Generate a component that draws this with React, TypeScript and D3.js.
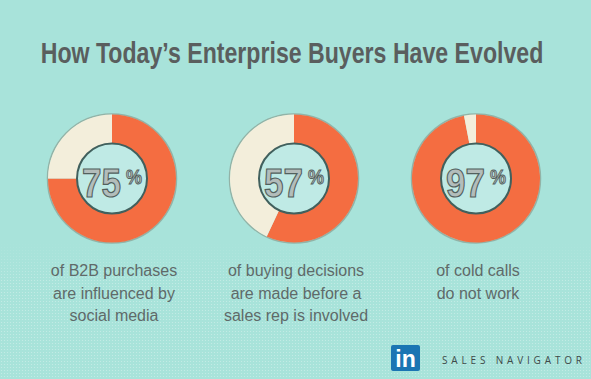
import React, { useLayoutEffect, useRef, useState } from "react";
import * as d3 from "d3";

const W = 591;
const H = 379;

const title = "How Today\u2019s Enterprise Buyers Have Evolved";
const percents = [75, 57, 97];
const captions = [
  ["of B2B purchases", "are influenced by", "social media"],
  ["of buying decisions", "are made before a", "sales rep is involved"],
  ["of cold calls", "do not work"],
];
const brand = "SALES NAVIGATOR";

const ORANGE = "#f46d41";
const CREAM = "#f3eedb";
const BG = "#a8e3da";
const HOLE = "#bfeae5";

type FitProps = {
  x: number;
  y: number;
  width: number;
  anchor?: "start" | "middle";
  children: string;
  [k: string]: any;
};

// Text squeezed horizontally to a given width via a measured transform.
function FitText({ x, y, width, anchor = "start", children, ...rest }: FitProps) {
  const ref = useRef<SVGTextElement>(null);
  const [k, setK] = useState(1);
  useLayoutEffect(() => {
    if (ref.current) {
      const w = ref.current.getComputedTextLength();
      if (w > 0) setK(width / w);
    }
  }, [width, children]);
  return (
    <text
      ref={ref}
      transform={`translate(${x},${y}) scale(${k},1)`}
      textAnchor={anchor}
      {...rest}
    >
      {children}
    </text>
  );
}

export default function App() {
  const x = d3.scalePoint<number>().domain(d3.range(percents.length)).range([112, 476]);
  const cy = 178.5;
  const pie = d3.pie<number>().sort(null).value((d) => d);
  const arc = d3.arc<d3.PieArcDatum<number>>().innerRadius(35).outerRadius(64);

  return (
    <svg
      width={W}
      height={H}
      style={{ position: "absolute", left: 0, top: 0, display: "block" }}
    >
      <defs>
        <pattern id="dots" width="3" height="3" patternUnits="userSpaceOnUse">
          <circle cx="1.5" cy="1.5" r="0.6" fill="#ffffff" opacity="0.35" />
        </pattern>
        <linearGradient id="fade" x1="0" y1="0" x2="0" y2="1">
          <stop offset="0" stopColor="#fff" stopOpacity="0" />
          <stop offset="0.3" stopColor="#fff" stopOpacity="1" />
          <stop offset="1" stopColor="#fff" stopOpacity="1" />
        </linearGradient>
        <mask id="fadeMask">
          <rect x="0" y="240" width={W} height={H - 240} fill="url(#fade)" />
        </mask>
      </defs>
      <rect width={W} height={H} fill={BG} />
      <rect x="0" y="240" width={W} height={H - 240} fill="url(#dots)" mask="url(#fadeMask)" />

      <FitText
        x={292}
        y={63}
        width={503}
        anchor="middle"
        fontFamily="'Liberation Sans', Arial, sans-serif"
        fontWeight="bold"
        fontSize={29}
        fill="#5a5e5e"
      >
        {title}
      </FitText>

      {percents.map((p, i) => {
        const cx = x(i)!;
        const arcs = pie([p, 100 - p]);
        return (
          <g key={i}>
            <g transform={`translate(${cx},${cy})`}>
              <circle r={64.5} fill="none" stroke="#6b5a48" strokeOpacity={0.35} strokeWidth={1.5} />
              {arcs.map((a, j) => (
                <path key={j} d={arc(a) || ""} fill={j === 0 ? ORANGE : CREAM} />
              ))}
              <circle r={35} fill={HOLE} stroke="#41605d" strokeWidth={2} />
              <FitText
                x={-30}
                y={18}
                width={39}
                fontFamily="'Liberation Sans', Arial, sans-serif"
                fontWeight="bold"
                fontSize={40}
                fill="#b3bdbb"
                stroke="#52605d"
                strokeWidth={1.2}
              >
                {String(p)}
              </FitText>
              <FitText
                x={14}
                y={5}
                width={16}
                fontFamily="'Liberation Sans', Arial, sans-serif"
                fontWeight="bold"
                fontSize={21}
                fill="#b3bdbb"
                stroke="#52605d"
                strokeWidth={0.9}
              >
                %
              </FitText>
            </g>
            {captions[i].map((line, k) => (
              <text
                key={k}
                x={cx + 2}
                y={276 + k * 22.5}
                textAnchor="middle"
                fontFamily="'Liberation Sans', Arial, sans-serif"
                fontSize={16}
                fill="#5f6a69"
              >
                {line}
              </text>
            ))}
          </g>
        );
      })}

      <rect x={391} y={345} width={29} height={26} rx={2} fill="#1b75b3" />
      <text
        x={405.5}
        y={367}
        textAnchor="middle"
        fontFamily="'Liberation Sans', Arial, sans-serif"
        fontWeight="bold"
        fontSize={23}
        fill="#ffffff"
      >
        in
      </text>
      <text
        x={442}
        y={364}
        fontFamily="'Open Sans', 'Liberation Sans', sans-serif"
        fontSize={10}
        fill="#3f4a49"
        textLength={140}
        lengthAdjust="spacing"
      >
        {brand}
      </text>
    </svg>
  );
}
